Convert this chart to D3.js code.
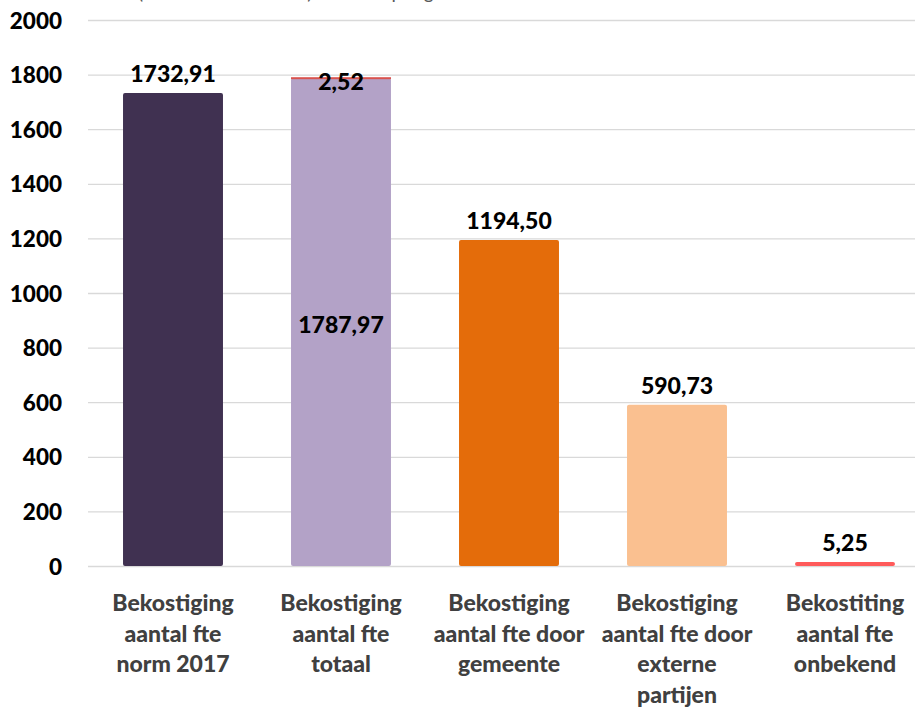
<!DOCTYPE html>
<html><head><meta charset="utf-8">
<script src="https://cdn.jsdelivr.net/npm/d3@7"></script>
<style>body{margin:0;background:#fff}svg{display:block}</style>
</head><body>
<svg id="chart" width="915" height="708"></svg>
<script>
const categories = [
  ["Bekostiging","aantal fte","norm 2017"],
  ["Bekostiging","aantal fte","totaal"],
  ["Bekostiging","aantal fte door","gemeente"],
  ["Bekostiging","aantal fte door","externe","partijen"],
  ["Bekostiting","aantal fte","onbekend"]
];
const mainValues = [1732.91, 1787.97, 1194.50, 590.73, 5.25];
const extraValues = [0, 2.52, 0, 0, 0];
const mainLabels = ["1732,91","1787,97","1194,50","590,73","5,25"];
const extraLabels = ["","2,52","","",""];
const barColors = ["#403151","#b3a2c7","#e46c0a","#fac090","#ff5a5a"];
const extraColor = "#d9534f";
const yTicks = [0,200,400,600,800,1000,1200,1400,1600,1800,2000];

const svg = d3.select("#chart");
const font = "Lato, 'Open Sans', sans-serif";
const x = d3.scaleBand().domain(d3.range(categories.length)).range([89, 929]).paddingInner(0.405).paddingOuter(0.2025);
const y = d3.scaleLinear().domain([0, 2000]).range([566, 20]);

// clipped title (cut off at the top, as in the reference)
svg.append("text").attr("x", 138).attr("y", -1).attr("font-family", font).attr("font-size", 19)
  .attr("fill", "#595959").text("(totaal of individueel) en norm per gemeente");

// gridlines + y axis
const yAxis = d3.axisLeft(y).tickValues(yTicks).tickSize(-(915-88)).tickFormat(d => d).tickPadding(26);
const gy = svg.append("g").attr("transform", "translate(88,0)").call(yAxis);
gy.select(".domain").remove();
gy.selectAll(".tick line").attr("stroke", "#d9d9d9").attr("stroke-width", 1.3);
gy.selectAll(".tick text").attr("font-family", font).attr("font-weight", "900").attr("font-size", 22.5).attr("fill", "#000").attr("dy", "0.36em");

// bars
const bw = x.bandwidth();
svg.append("g").selectAll("rect").data(mainValues).join("rect")
  .attr("x", (d,i) => x(i)).attr("width", bw)
  .attr("y", d => Math.min(y(d), y(0) - 4)).attr("height", d => Math.max(y(0) - y(d), 4))
  .attr("rx", 2).attr("fill", (d,i) => barColors[i]);

const extraG = svg.append("g");
extraValues.forEach((d, i) => {
  if (d <= 0) return;
  extraG.append("rect")
    .attr("x", x(i)).attr("width", bw)
    .attr("y", y(mainValues[i] + d)).attr("height", Math.max(y(0) - y(d), 2))
    .attr("fill", extraColor);
});

// value labels
const lab = svg.append("g").attr("font-family", font).attr("font-weight", "900").attr("font-size", 23).attr("fill", "#000").attr("text-anchor", "middle");
mainLabels.forEach((t, i) => {
  const inside = extraValues[i] > 0;
  const ly = inside ? (y(mainValues[i]) + y(0)) / 2 + 11 : Math.min(y(mainValues[i]), y(0) - 4) - 11;
  lab.append("text").attr("x", x(i) + bw/2).attr("y", ly).text(t);
});
extraLabels.forEach((t, i) => {
  if (!t) return;
  lab.append("text").attr("x", x(i) + bw/2).attr("y", y(mainValues[i] + extraValues[i]) + 13).text(t);
});

// category labels
const cl = svg.append("g").attr("font-family", font).attr("font-weight", "900").attr("font-size", 23).attr("fill", "#404040").attr("text-anchor", "middle");
categories.forEach((lines, i) => {
  const t = cl.append("text").attr("x", x(i) + bw/2).attr("y", 611);
  lines.forEach((l, j) => t.append("tspan").attr("x", x(i) + bw/2).attr("y", 611 + j*30.7).text(l));
});
</script>
</body></html>
